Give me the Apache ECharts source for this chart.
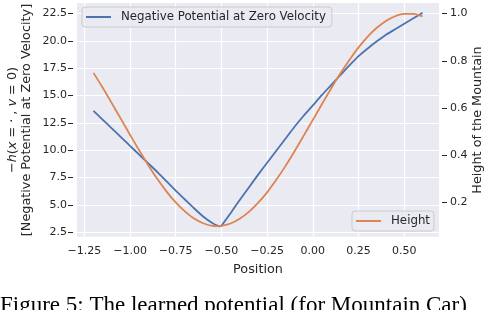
<!DOCTYPE html>
<html>
<head>
<meta charset="utf-8">
<script src="https://cdn.jsdelivr.net/npm/echarts@6/dist/echarts.min.js"></script>
<style>html,body{margin:0;padding:0;background:#fff;overflow:hidden}#c{width:488px;height:310px}</style>
</head>
<body>
<div id="c"></div>
<script>
// Position (x) samples
const positions = [-1.2,-1.15,-1.1,-1.05,-1.0,-0.95,-0.9,-0.85,-0.8,-0.75,-0.7,-0.65,-0.6,-0.55,-0.51,-0.5,-0.45,-0.4,-0.35,-0.3,-0.25,-0.2,-0.15,-0.1,-0.05,0.0,0.05,0.1,0.15,0.2,0.25,0.3,0.35,0.4,0.45,0.5,0.55,0.6];
// Negative potential at zero velocity (left axis)
const negPotential = [13.6,12.8,12.0,11.2,10.4,9.6,8.8,8.0,7.15,6.3,5.5,4.7,3.95,3.35,3.05,3.1,4.25,5.45,6.6,7.75,8.85,9.95,11.05,12.15,13.15,14.1,15.05,15.95,16.85,17.75,18.6,19.3,19.95,20.55,21.05,21.55,22.05,22.55];
// Height of the mountain (right axis)
const heights = [0.749,0.687,0.621,0.554,0.487,0.421,0.358,0.299,0.246,0.200,0.162,0.132,0.112,0.101,0.100,0.101,0.111,0.131,0.160,0.198,0.243,0.296,0.354,0.417,0.483,0.550,0.617,0.683,0.746,0.804,0.857,0.903,0.940,0.969,0.989,0.999,0.999,0.988];
// Tick labels
const xTicks = [-1.25,-1.0,-0.75,-0.5,-0.25,0.0,0.25,0.5];
const leftTicks = [2.5,5.0,7.5,10.0,12.5,15.0,17.5,20.0,22.5];
const rightTicks = [0.2,0.4,0.6,0.8,1.0];

const FONT = 'DejaVu Sans';
const TXT = '#262626';
const chart = echarts.init(document.getElementById('c'), null, {renderer:'canvas'});

const pot = positions.map((x,i)=>[x,negPotential[i]]);
const hei = positions.map((x,i)=>[x,heights[i]]);

const legendBase = {padding:[4,6,4,4],itemWidth:25,itemHeight:2,icon:'rect',
  backgroundColor:'rgba(234,234,242,0.8)',borderColor:'#cccccc',borderWidth:1,borderRadius:3,
  textStyle:{fontFamily:FONT,fontSize:11.8,color:TXT,padding:[0,0,0,5]}};

chart.setOption({
  animation:false,
  backgroundColor:'#ffffff',
  grid:{left:77,right:49,top:3,bottom:73.3,show:true,backgroundColor:'#eaeaf2',borderWidth:0},
  legend:[
    Object.assign({}, legendBase, {data:['Negative Potential at Zero Velocity'],left:82,top:7}),
    Object.assign({}, legendBase, {data:['Height'],left:352,top:211,padding:[4,4,4,4]})
  ],
  xAxis:{type:'value',min:-1.29,max:0.69,
    axisLine:{show:false,onZero:false},
    axisTick:{show:false,customValues:xTicks},
    splitLine:{show:true,lineStyle:{color:'#ffffff',width:1.2}},
    axisLabel:{customValues:xTicks,margin:9,fontFamily:FONT,fontSize:11,color:TXT,
      formatter:v=>v.toFixed(2).replace('-','\u2212')},
    name:'Position',nameLocation:'middle',nameGap:26,
    nameTextStyle:{fontFamily:FONT,fontSize:12.8,color:TXT}
  },
  yAxis:[
    {type:'value',min:2.1,max:23.45,position:'left',offset:4,
     axisLine:{show:false,onZero:false},
     axisTick:{show:true,length:5,customValues:leftTicks,lineStyle:{color:TXT,width:1}},
     splitLine:{show:true,lineStyle:{color:'#ffffff',width:1.2}},
     axisLabel:{customValues:leftTicks,margin:6,fontFamily:FONT,fontSize:11,color:TXT,formatter:v=>v.toFixed(1)}
    },
    {type:'value',min:0.055,max:1.045,position:'right',offset:3,
     axisLine:{show:false,onZero:false},
     axisTick:{show:true,length:5,customValues:rightTicks,lineStyle:{color:TXT,width:1}},
     splitLine:{show:false},
     axisLabel:{customValues:rightTicks,margin:8,fontFamily:FONT,fontSize:11,color:TXT,formatter:v=>v.toFixed(1)}
    }
  ],
  series:[
    {name:'Negative Potential at Zero Velocity',type:'line',data:pot,yAxisIndex:0,symbol:'none',smooth:0.2,
     lineStyle:{color:'#4c72b0',width:1.8},itemStyle:{color:'#4c72b0'},z:2},
    {name:'Height',type:'line',data:hei,yAxisIndex:1,symbol:'none',smooth:0.3,
     lineStyle:{color:'#dd8452',width:1.8},itemStyle:{color:'#dd8452'},z:3}
  ],
  graphic:[
    {type:'text',x:20,y:120,rotation:Math.PI/2,
     style:{text:'{n|\u2212}{i|h}{n|(}{i|x}{n| = \u00b7 , }{i|v}{n| = 0)}\n{n|[Negative Potential at Zero Velocity]}',
       align:'center',verticalAlign:'middle',
       rich:{n:{fontFamily:FONT,fontSize:12.8,fill:TXT,lineHeight:14,color:TXT},
             i:{fontFamily:FONT,fontStyle:'italic',fontSize:12.8,lineHeight:14,fill:TXT,color:TXT}}}},
    {type:'text',x:478,y:120,rotation:Math.PI/2,
     style:{text:'Height of the Mountain',align:'center',verticalAlign:'middle',
       font:'12.8px "DejaVu Sans"',fill:TXT}},
    {type:'text',x:0,y:305.5,
     style:{text:'Figure 5: The learned potential (for Mountain Car)',align:'left',verticalAlign:'middle',
       font:'23px "Liberation Serif"',fill:'#000000'}}
  ]
});
</script>
</body>
</html>
